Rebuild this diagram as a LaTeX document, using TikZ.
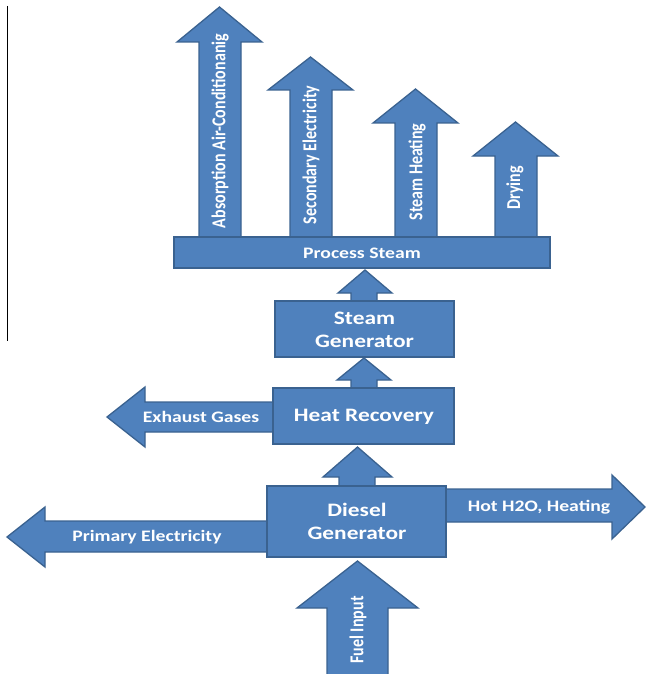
\documentclass[tikz,border=0pt]{standalone}
\usepackage{fontspec}
\usepackage{graphicx}
\setmainfont{Carlito}
\definecolor{blkfill}{HTML}{4F81BD}
\definecolor{blkline}{HTML}{3A6290}
\newcommand\hstretch[1]{\scalebox{1.23}[1]{#1}}
\newcommand\vstretch[1]{\scalebox{1}[1.23]{#1}}
\tikzset{
  blk/.style={fill=blkfill,draw=blkline,line width=1.3pt,line join=miter},
  lbl/.style={text=white,font=\bfseries\fontsize{16}{19}\selectfont,inner sep=0pt},
  biglbl/.style={text=white,font=\bfseries\fontsize{19}{23}\selectfont,inner sep=0pt},
  vlbl/.style={lbl,rotate=90}
}
\begin{document}
\begin{tikzpicture}[x=1pt,y=-1pt]
\useasboundingbox (0,0) rectangle (646,674);
% left rule
\draw[black,line width=0.9pt] (7.3,6) -- (7.3,341);
% vertical output arrows
\draw[blk] (199,238) -- (199,42) -- (177,42) -- (219.5,7) -- (262,42) -- (241,42) -- (241,238) -- cycle;
\draw[blk] (290,238) -- (290,90) -- (268,90) -- (310.5,57) -- (353,90) -- (332,90) -- (332,238) -- cycle;
\draw[blk] (395,238) -- (395,123) -- (373,123) -- (415.5,89) -- (458,123) -- (437,123) -- (437,238) -- cycle;
\draw[blk] (495,238) -- (495,156) -- (473,156) -- (515.5,122) -- (558,156) -- (537,156) -- (537,238) -- cycle;
\node[vlbl] (tabs) at (220,131) {\vstretch{Absorption Air-Conditionanig}};
\node[vlbl] (tsec) at (311,155) {\vstretch{Secondary Electricity}};
\node[vlbl] (tsth) at (417,172) {\vstretch{Steam Heating}};
\node[vlbl] (tdry) at (515,188) {\vstretch{Drying}};
% process steam bar
\node[blk,minimum width=376pt,minimum height=31pt,inner sep=0pt] (ps) at (362,252.5) {};
\node[lbl] (tps) at (362,253) {\hstretch{Process Steam}};
% internal up arrows
\draw[blk] (351,302) -- (351,293) -- (338,293) -- (365,270) -- (392,293) -- (377,293) -- (377,302) -- cycle;
\draw[blk] (351,389) -- (351,380) -- (337,380) -- (364,358) -- (391,380) -- (377,380) -- (377,389) -- cycle;
\draw[blk] (339,487) -- (339,477) -- (323,477) -- (357.5,447) -- (392,477) -- (375,477) -- (375,487) -- cycle;
% side arrows
\draw[blk] (275,402) -- (145,402) -- (145,387) -- (107,417) -- (145,447) -- (145,432) -- (275,432) -- cycle;
\draw[blk] (268,521) -- (45,521) -- (45,507) -- (7,537) -- (45,567) -- (45,552) -- (268,552) -- cycle;
\draw[blk] (445,489) -- (612,489) -- (612,475) -- (645,507) -- (612,539) -- (612,522) -- (445,522) -- cycle;
% fuel input
\draw[blk] (327,676) -- (327,608) -- (297,608) -- (357.5,561) -- (418,608) -- (388,608) -- (388,676) -- cycle;
\node[vlbl] (tfuel) at (358,630) {\vstretch{Fuel Input}};
% boxes
\node[blk,minimum width=179pt,minimum height=56pt,inner sep=0pt] (sg) at (364.5,329) {};
\node[biglbl] (tsg1) at (364.5,318) {\hstretch{Steam}};
\node[biglbl] (tsg2) at (364.5,341) {\hstretch{Generator}};
\node[blk,minimum width=181pt,minimum height=56pt,inner sep=0pt] (hr) at (363.5,416) {};
\node[biglbl] (thr) at (364,417) {\hstretch{Heat Recovery}};
\node[blk,minimum width=179pt,minimum height=71pt,inner sep=0pt] (dg) at (356.5,521.5) {};
\node[biglbl] (tdg1) at (357,510) {\hstretch{Diesel}};
\node[biglbl] (tdg2) at (357,533) {\hstretch{Generator}};
% side labels
\node[lbl] (texh) at (201,417) {\hstretch{Exhaust Gases}};
\node[lbl] (tpri) at (147,537) {\hstretch{Primary Electricity}};
\node[lbl] (thot) at (539,507) {\hstretch{Hot H2O, Heating}};
\end{tikzpicture}
\end{document}
